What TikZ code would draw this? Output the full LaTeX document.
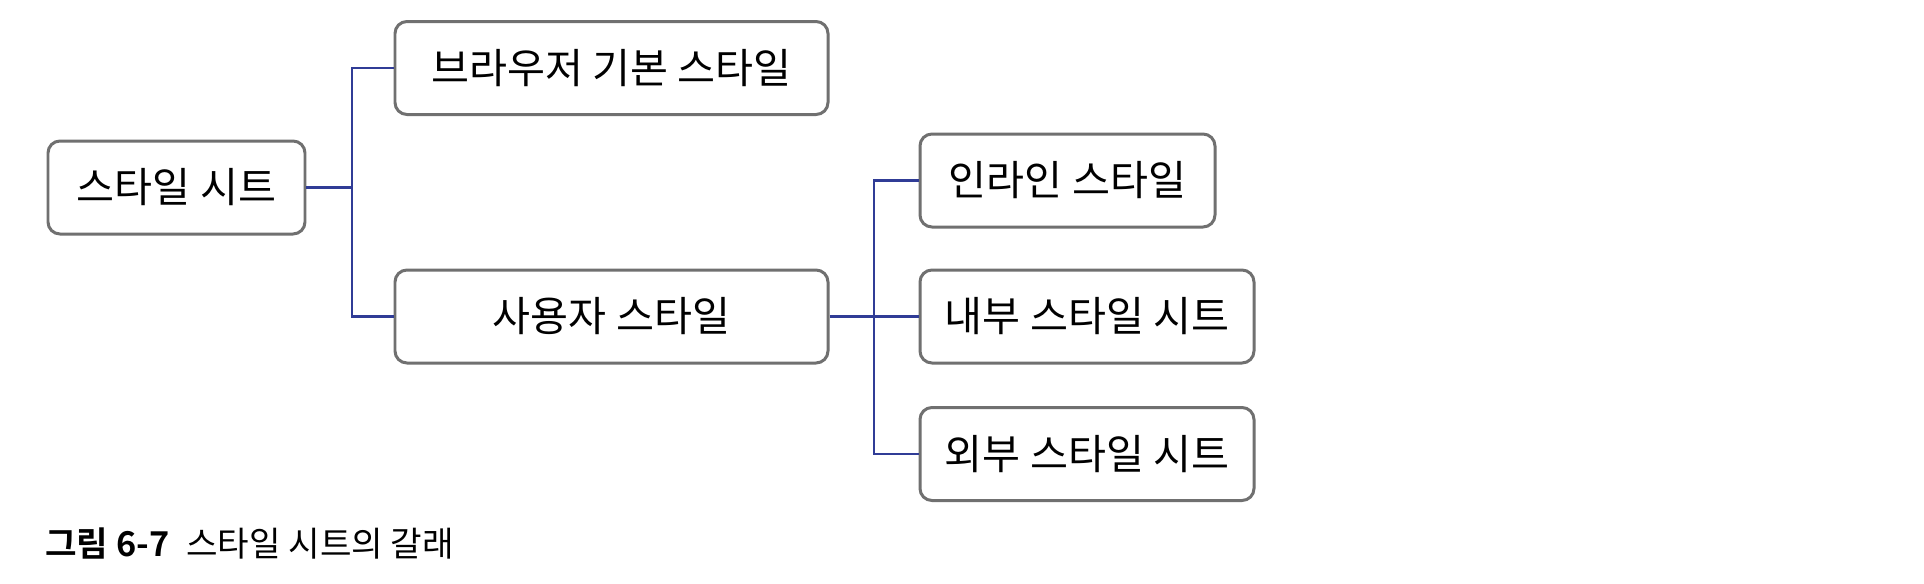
\documentclass[tikz,border=0pt]{standalone}
\usepackage{fontspec}
\setmainfont{Noto Sans CJK KR}
\newfontfamily\capbold{Noto Sans CJK KR Bold}
\usetikzlibrary{positioning}

\definecolor{boxgray}{RGB}{112,112,112}
\definecolor{linkblue}{RGB}{48,60,150}

\begin{document}
\begin{tikzpicture}[x=0.02cm, y=-0.02cm,
        stylebox/.style={draw=boxgray, line width=1.7pt, rounded corners=0.24cm,
            minimum height=93*0.02cm, inner sep=0pt, font=\fontsize{23.5}{28}\selectfont},
        link/.style={draw=linkblue, line width=1.3pt}]

        \def\forkx{352}
        \def\forkxx{874}

        \useasboundingbox[fill=white] (0,0) rectangle (1924,583);

        % tree of boxes
        \node[stylebox, minimum width=257*0.02cm] (sheet) at (176.5, 187.5) {스타일 시트};
        \node[stylebox, minimum width=433*0.02cm] (browser) at (611.5, 68) {브라우저 기본 스타일};
        \node[stylebox, minimum width=433*0.02cm] (user) at (611.5, 316.5) {사용자 스타일};
        \node[stylebox, minimum width=295*0.02cm] (inline) at (1067.5, 180.5) {인라인 스타일};
        \node[stylebox, minimum width=334*0.02cm] (internal) at (1087, 316.5) {내부 스타일 시트};
        \node[stylebox, minimum width=334*0.02cm] (external) at (1087, 454) {외부 스타일 시트};

        \coordinate (fork1) at (\forkx, 187.5);
        \coordinate (fork2) at (\forkxx, 316.5);

        \draw[link] (sheet.east) -- (fork1);
        \draw[link] (browser.west) -| (fork1) |- (user.west);
        \draw[link] (user.east) -- (internal.west);
        \draw[link] (inline.west) -| (fork2) |- (external.west);

        % caption
        \node[anchor=west, inner sep=0pt, font=\fontsize{19.5}{23}\selectfont] (caption) at (45, 543)
            {{\capbold 그림 6-7}\hspace{0.5em}스타일 시트의 갈래};

\end{tikzpicture}
\end{document}
